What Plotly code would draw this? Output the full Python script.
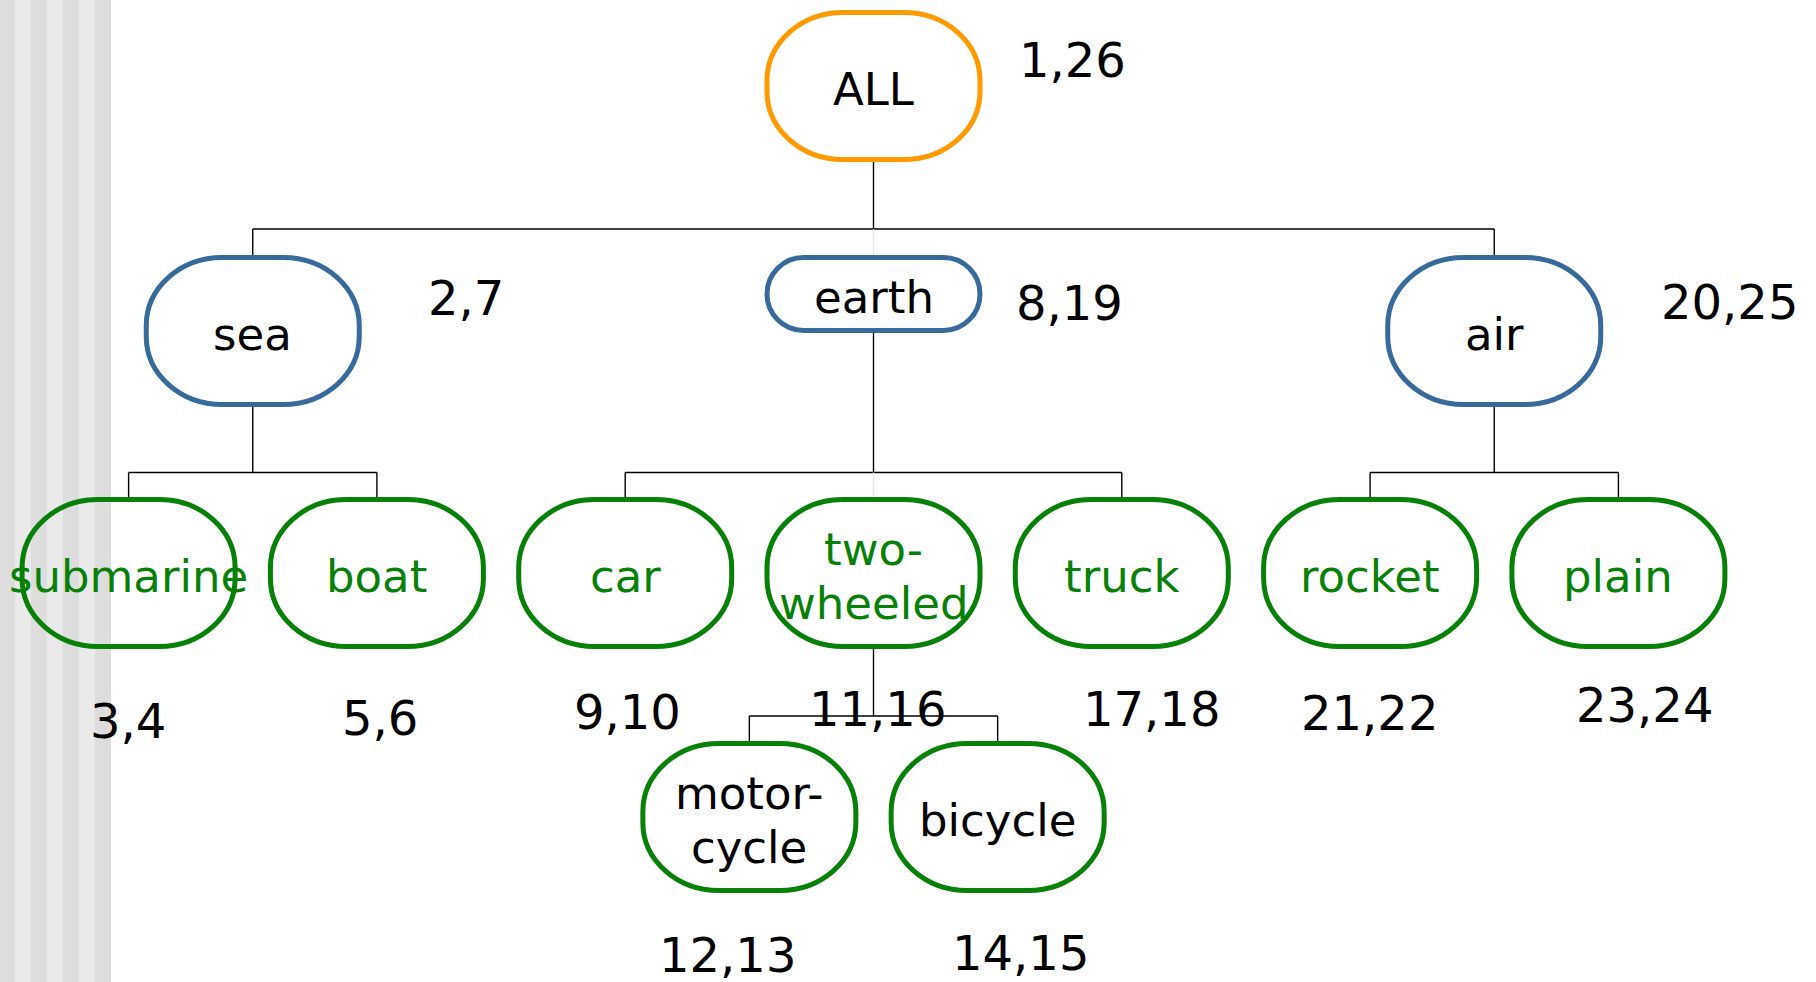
import plotly.graph_objects as go

# ---------------- data ----------------
node_names = ["ALL", "sea", "earth", "air", "submarine", "boat", "car",
              "two-wheeled", "truck", "rocket", "plain", "motorcycle", "bicycle"]
node_labels = ["ALL", "sea", "earth", "air", "submarine", "boat", "car",
               "two-\nwheeled", "truck", "rocket", "plain", "motor-\ncycle", "bicycle"]
node_parents = [None, "ALL", "ALL", "ALL", "sea", "sea", "earth", "earth",
                "earth", "air", "air", "two-wheeled", "two-wheeled"]
interval_start = [1, 2, 8, 20, 3, 5, 9, 11, 17, 21, 23, 12, 14]
interval_end = [26, 7, 19, 25, 4, 6, 10, 16, 18, 22, 24, 13, 15]

# ---------------- layout / style ----------------
W, H = 1816, 982
X0, SLOT = 128.6, 248.3                 # pixel x of slot 0 and slot spacing
LEVEL_TOP = [12.5, 257.5, 499.5, 743.5]  # stroke-centred node tops per depth
BUS_Y = [229, 472.5, 716]                # connector bus per parent depth
NODE_W, NODE_H, SHORT_H = 213, 147, 73
RADIUS_X, RADIUS_Y = 76, 68
STROKE = 5
leaf_slot = {"submarine": 0, "boat": 1, "car": 2, "two-wheeled": 3, "truck": 4,
             "rocket": 5, "plain": 6, "motorcycle": 2.5, "bicycle": 3.5}
short_nodes = {"earth"}
faint_links = {("ALL", "earth"), ("earth", "two-wheeled")}
border_by_depth = ["#FF9900", "#356A9B", "#078007", "#078007"]
text_by_depth = ["#000000", "#000000", "#078007", "#000000"]
num_offset = {  # (dx, dy) of the interval label from the node centre
    "ALL": (199, -26), "sea": (213, -33), "earth": (196, 9), "air": (235, -29),
    "submarine": (-1, 148), "boat": (3, 145), "car": (2, 139), "two-wheeled": (4, 136),
    "truck": (30, 136), "rocket": (-1, 140), "plain": (26, 132),
    "motorcycle": (-22, 138), "bicycle": (23, 136)}
LABEL_SIZE, NUM_SIZE = 45, 48
LINE_GAP = 54
FONT = "DejaVu Sans"

# ---------------- tree geometry ----------------
children = {n: [] for n in node_names}
for n, p in zip(node_names, node_parents):
    if p:
        children[p].append(n)
depth = {}
for n, p in zip(node_names, node_parents):
    depth[n] = 0 if p is None else depth[p] + 1


def slot_of(n):
    if n in leaf_slot:
        return leaf_slot[n]
    s = [slot_of(c) for c in children[n]]
    return (min(s) + max(s)) / 2


pos = {}
for n in node_names:
    h = SHORT_H if n in short_nodes else NODE_H
    top = LEVEL_TOP[depth[n]]
    pos[n] = (X0 + slot_of(n) * SLOT, top + h / 2, NODE_W, h)


def rr_path(cx, cy, w, h, rx, ry):
    if ry > h / 2:          # short capsule: semicircular ends
        rx = ry = h / 2
    rx = min(rx, w / 2)
    kx, ky = 0.5523 * rx, 0.5523 * ry
    x0, x1, y0, y1 = cx - w / 2, cx + w / 2, cy - h / 2, cy + h / 2
    return (f"M{x0 + rx},{y0} L{x1 - rx},{y0} "
            f"C{x1 - rx + kx},{y0} {x1},{y0 + ry - ky} {x1},{y0 + ry} "
            f"L{x1},{y1 - ry} "
            f"C{x1},{y1 - ry + ky} {x1 - rx + kx},{y1} {x1 - rx},{y1} "
            f"L{x0 + rx},{y1} "
            f"C{x0 + rx - kx},{y1} {x0},{y1 - ry + ky} {x0},{y1 - ry} "
            f"L{x0},{y0 + ry} "
            f"C{x0},{y0 + ry - ky} {x0 + rx - kx},{y0} {x0 + rx},{y0} Z")


shapes = []
# background stripes on the left edge
stripe_edges = [0, 15, 31, 47, 63, 79, 95, 111]
for i in range(len(stripe_edges) - 1):
    shapes.append(dict(type="rect", xref="x", yref="y", layer="below",
                       x0=stripe_edges[i], x1=stripe_edges[i + 1], y0=0, y1=H,
                       fillcolor="#DDDDDD" if i % 2 == 0 else "#EAEAEA",
                       line=dict(width=0)))

# connectors
for p in node_names:
    if not children[p]:
        continue
    px, py, pw, ph = pos[p]
    bus = BUS_Y[depth[p]]
    line = dict(color="#000000", width=1.4)
    shapes.append(dict(type="line", xref="x", yref="y", x0=px, x1=px,
                       y0=py + ph / 2 + STROKE / 2, y1=bus, line=line))
    cxs = [pos[c][0] for c in children[p]]
    shapes.append(dict(type="line", xref="x", yref="y", x0=min(cxs), x1=max(cxs),
                       y0=bus, y1=bus, line=line))
    for c in children[p]:
        cx, cy, cw, ch = pos[c]
        col = "#E4E4E4" if (p, c) in faint_links else "#000000"
        shapes.append(dict(type="line", xref="x", yref="y", x0=cx, x1=cx,
                           y0=bus, y1=cy - ch / 2 - STROKE / 2,
                           line=dict(color=col, width=1.4)))

# nodes
annotations = []
for n, lab, a, b in zip(node_names, node_labels, interval_start, interval_end):
    cx, cy, w, h = pos[n]
    d = depth[n]
    shapes.append(dict(type="path", xref="x", yref="y",
                       path=rr_path(cx, cy, w, h, RADIUS_X, RADIUS_Y),
                       line=dict(color=border_by_depth[d], width=STROKE),
                       fillcolor="rgba(0,0,0,0)"))
    lines = lab.split("\n")
    for i, t in enumerate(lines):
        off = (i - (len(lines) - 1) / 2) * LINE_GAP
        annotations.append(dict(x=cx, y=cy + 3 + off, xref="x", yref="y", text=t,
                                showarrow=False, xanchor="center", yanchor="middle",
                                font=dict(family=FONT, size=LABEL_SIZE,
                                          color=text_by_depth[d])))
    dx, dy = num_offset[n]
    annotations.append(dict(x=cx + dx, y=cy + dy, xref="x", yref="y", text=f"{a},{b}",
                            showarrow=False, xanchor="center", yanchor="middle",
                            font=dict(family=FONT, size=NUM_SIZE, color="#000000")))

fig = go.Figure()
fig.add_trace(go.Scatter(
    x=[pos[n][0] for n in node_names], y=[pos[n][1] for n in node_names],
    mode="markers", marker=dict(size=30, opacity=0),
    text=[f"{n}: {a},{b}" for n, a, b in zip(node_names, interval_start, interval_end)],
    hoverinfo="text", showlegend=False))

fig.update_layout(
    width=W, height=H, margin=dict(l=0, r=0, t=0, b=0),
    paper_bgcolor="white", plot_bgcolor="white",
    xaxis=dict(range=[0, W], visible=False, fixedrange=True),
    yaxis=dict(range=[H, 0], visible=False, fixedrange=True),
    shapes=shapes, annotations=annotations, showlegend=False)

fig.write_html("out.html", config={"displayModeBar": False},
               post_script="document.body.style.margin='0';document.body.style.overflow='hidden';")
